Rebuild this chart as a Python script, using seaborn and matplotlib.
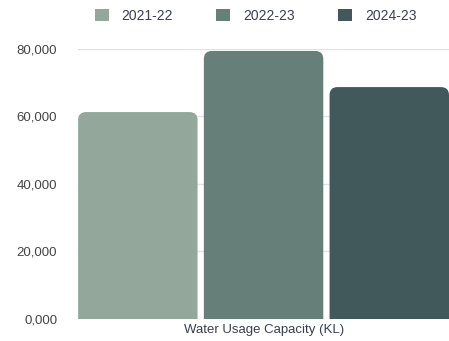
import seaborn as sns
import matplotlib.pyplot as plt
import pandas
from matplotlib.patches import FancyBboxPatch, Patch
from matplotlib.ticker import FuncFormatter

categoria = ['Water Usage Capacity (KL)']
anios = ['2021-22', '2022-23', '2024-23']
valores = [61300, 79400, 68700]
colores = ['#93a89b', '#667f78', '#42595b']

df = pandas.DataFrame({
    'cat': categoria * len(anios),
    'anio': anios,
    'valor': valores,
})

sns.set_style('white')
plt.rcParams['font.family'] = ['Liberation Sans', 'DejaVu Sans']

fig = plt.figure(figsize=(4.49, 3.41), dpi=100)
ax = fig.add_axes([0.174, 0.0645, 0.826, 0.792])

sns.barplot(data=df, x='cat', y='valor', hue='anio', palette=colores,
            saturation=1, gap=0.05, ax=ax, legend=False)

ax.set_ylim(0, 80000)
ax.set_yticks([0, 20000, 40000, 60000, 80000])
ax.yaxis.set_major_formatter(FuncFormatter(lambda v, p: '0,000' if v == 0 else f'{int(v):,}'))
ax.grid(axis='y', color='#e2e2e8', linewidth=1)
ax.set_axisbelow(True)
sns.despine(ax=ax, left=True, bottom=True)
ax.tick_params(axis='y', length=0, labelsize=9.5, labelcolor='#444444', pad=15)
ax.tick_params(axis='x', length=0, labelsize=9.5, labelcolor='#3a3f52', pad=3.5)
ax.set_xlabel('')
ax.set_ylabel('')

# bordes redondeados arriba
barras = list(ax.patches)
xs = [b.get_x() for b in barras]
ws = [b.get_width() for b in barras]
ax.set_xlim(min(xs), max(x + w for x, w in zip(xs, ws)))
fig.canvas.draw()
bbox = ax.get_window_extent()
px_x = (ax.get_xlim()[1] - ax.get_xlim()[0]) / bbox.width
px_y = (ax.get_ylim()[1] - ax.get_ylim()[0]) / bbox.height
r = 8 * px_x
for b in barras:
    x, w, h = b.get_x(), b.get_width(), b.get_height()
    fb = FancyBboxPatch((x, -20 * px_y), w, h + 20 * px_y,
                        boxstyle=f'round,pad=0,rounding_size={r}',
                        mutation_aspect=px_y / px_x,
                        facecolor=b.get_facecolor(), edgecolor='none',
                        clip_on=True, zorder=2)
    ax.add_patch(fb)
    b.remove()

handles = [Patch(facecolor=c, edgecolor='none') for c in colores]
fig.legend(handles, anios, loc='center', bbox_to_anchor=(0.569, 1 - 16 / 341),
           ncol=3, frameon=False, fontsize=10, columnspacing=3.1,
           handlelength=1, handleheight=1, handletextpad=0.94,
           labelcolor='#3a3f52')

plt.savefig('out.png', dpi=100)
